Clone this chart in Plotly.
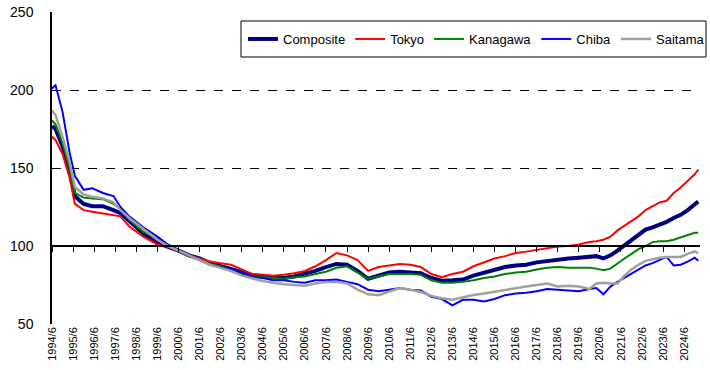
import plotly.graph_objects as go

# month index from 1994/6 (0) onward
months = [0, 2, 6, 10, 13, 18, 23, 29, 35, 39, 44, 52, 60, 66, 72, 78, 84, 90, 96, 102,
          108, 114, 120, 126, 132, 138, 144, 150, 156, 162, 168, 174, 180, 186, 192, 198,
          204, 210, 216, 222, 228, 234, 240, 246, 252, 258, 264, 270, 276, 282, 288, 294,
          300, 306, 310, 314, 318, 322, 326, 330, 334, 338, 342, 346, 350, 354, 358, 362,
          366, 368]

composite = [177, 175, 164, 149, 132, 127, 125.5, 125.5, 123, 121, 116, 108, 102, 99.6, 97, 94, 92, 89, 87, 85,
             83, 81.5, 80.5, 80, 79.5, 80.5, 82, 84, 86.5, 88.5, 88, 84, 79, 81, 83, 83.5,
             83, 82.5, 79.5, 77.8, 78, 78.5, 81, 83, 85, 86.5, 87.5, 88, 89.5, 90.5, 91, 92,
             92.5, 93, 93.5, 92, 94, 97, 100.5, 104, 107.5, 110.5, 112, 113.5, 115.5, 118, 120, 123,
             127, 128.5]

tokyo = [170, 168, 159, 144, 127, 123, 122, 121, 120, 119, 112.5, 106, 101, 99.5, 97, 94, 92, 90, 89, 88,
         85, 82, 81.5, 81, 81.5, 82.5, 84, 87, 91, 95.5, 94, 91, 84, 86.5, 87.5, 88.5,
         88, 86.5, 82, 80, 82, 83.5, 87, 89.5, 92, 93.5, 95.5, 96.4, 97.5, 98.5, 99.6, 100,
         101, 102.5, 103, 104, 106, 110, 113, 116, 119, 123, 125.5, 128, 129, 134, 137.5, 142,
         146, 149]

kanagawa = [180.5, 178, 166, 150, 134, 131, 130.5, 130, 127, 124, 117, 109, 104.5, 100, 97, 93.5, 91, 88.5, 87, 84,
            82, 80.5, 80, 79.5, 79, 80, 80.5, 82, 83.5, 86, 87, 83, 79, 80.5, 82, 82,
            82, 81.5, 78, 76.5, 76.5, 77, 78, 79.5, 80.5, 82, 83, 83.5, 85, 86, 86.5, 86,
            86, 86, 85.5, 84.5, 85.5, 89, 92, 95, 98, 100, 102.5, 103, 103, 104, 105.5, 106.5,
            108.5, 108.5]

chiba = [201, 203, 186, 160, 145, 136, 137, 134, 132, 125, 119, 112, 106, 101, 97.5, 94, 91, 88, 86.5, 85,
         83, 80, 79.5, 78, 78, 77, 76.5, 78, 78, 78.5, 77, 75.5, 72, 71, 72, 73,
         72, 71.5, 67.5, 66, 62, 65.5, 65.5, 64.5, 66, 68.5, 69.5, 70, 71, 72.5, 72, 71.5,
         71, 72.5, 73, 69, 74, 77, 79.5, 82, 85, 87.5, 89, 91, 93, 87.5, 88, 90,
         92.5, 90.5]

saitama = [187, 184, 170, 154, 138, 133, 131.5, 130.5, 128, 123, 118, 111, 104, 100, 97, 93.5, 91, 88, 86, 84,
           81, 79, 77.5, 76.5, 75.5, 75, 74.5, 76, 77, 77, 76, 72, 69, 68.5, 71, 73,
           72, 70.5, 68, 66.5, 65.5, 67, 68.6, 69.5, 70.7, 72, 73, 74, 75, 76, 74, 74.5,
           74, 72.5, 76, 76.5, 76, 76, 81, 85, 88, 90.5, 91.5, 92.5, 93, 93, 93, 95,
           96.5, 95.5]

series_names = ["Composite", "Tokyo", "Kanagawa", "Chiba", "Saitama"]
series_values = [composite, tokyo, kanagawa, chiba, saitama]
colors = ["#000080", "#FF0000", "#008000", "#0000FF", "#A0A0A0"]
widths = [4, 2, 2, 2, 2.5]

tick_months = list(range(0, 361, 12))
tick_labels = [f"{1994 + i}/6" for i in range(len(tick_months))]

fig = go.Figure()
for name, vals, c, w in zip(series_names, series_values, colors, widths):
    fig.add_trace(go.Scatter(x=months, y=vals, mode="lines", name=name,
                             line=dict(color=c, width=w)))

# dummy trace on xaxis2 to show axis at y=100
fig.add_trace(go.Scatter(x=[0], y=[100], xaxis="x2", mode="lines",
                         showlegend=False, hoverinfo="skip", line=dict(width=0)))

# legend frame
fig.add_shape(type="rect", xref="paper", yref="paper",
              x0=(241 - 52) / 648, x1=(706 - 52) / 648,
              y0=(324 - 57) / 312, y1=(324 - 21) / 312,
              line=dict(color="black", width=1), fillcolor="white", layer="above")

fig.update_layout(
    width=710, height=370,
    margin=dict(l=52, r=10, t=12, b=46, autoexpand=False),
    paper_bgcolor="white", plot_bgcolor="white",
    font=dict(family="Liberation Sans, Arial, sans-serif", color="black", size=13),
    showlegend=True,
    legend=dict(orientation="h", x=(243 - 52) / 648, y=(324 - 39) / 312,
                xanchor="left", yanchor="middle",
                borderwidth=0, bgcolor="rgba(0,0,0,0)",
                font=dict(size=13), itemwidth=30, tracegroupgap=0),
    xaxis=dict(range=[0, 369], tickmode="array", tickvals=tick_months, ticktext=tick_labels,
               tickangle=-90, tickfont=dict(size=11), showgrid=False, zeroline=False,
               showline=False, ticks="", automargin=False),
    xaxis2=dict(range=[0, 369], overlaying="x", anchor="free", position=0.25,
                tickmode="array", tickvals=tick_months, showticklabels=False,
                ticks="outside", ticklen=5, tickcolor="black", showline=True,
                linecolor="black", linewidth=1.5, showgrid=False, zeroline=False),
    yaxis=dict(range=[50, 250], dtick=50, showgrid=True, gridcolor="black",
               griddash="dash", gridwidth=1, showline=True, linecolor="black",
               linewidth=1.5, zeroline=False, ticks="", ticklabelstandoff=14,
               tickfont=dict(size=14), automargin=False),
)

fig.write_html("out.html", config={"displayModeBar": False})

with open("out.html", "r", encoding="utf-8") as f:
    html = f.read()
html = html.replace("<head>", "<head><style>html,body{margin:0;padding:0;overflow:hidden;}</style>", 1)
with open("out.html", "w", encoding="utf-8") as f:
    f.write(html)
